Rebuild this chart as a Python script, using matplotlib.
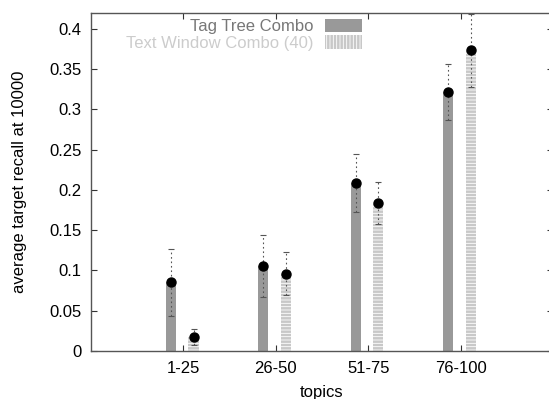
import matplotlib
matplotlib.use("Agg")
import matplotlib.pyplot as plt
from matplotlib.patches import Patch
import numpy as np

categories = ["1-25", "26-50", "51-75", "76-100"]
tag_tree = [0.085, 0.1055, 0.209, 0.321]
tag_tree_err = [0.041, 0.038, 0.036, 0.035]
text_window = [0.0175, 0.096, 0.1835, 0.373]
text_window_err = [0.0095, 0.0265, 0.026, 0.045]
yticks = [0, 0.05, 0.1, 0.15, 0.2, 0.25, 0.3, 0.35, 0.4]
ytick_labels = ["0", "0.05", "0.1", "0.15", "0.2", "0.25", "0.3", "0.35", "0.4"]

plt.rcParams['font.family'] = ['Liberation Sans', 'DejaVu Sans']
plt.rcParams['hatch.linewidth'] = 1.8

FS = 12

fig = plt.figure(figsize=(5.49, 3.99), dpi=100)
ax = fig.add_axes([91/549, 48/399, (553-91)/549, (351-12.5)/399])

x = np.arange(1, len(categories) + 1)
w = 0.11
off_tag = -0.135
off_txt = 0.11

ax.bar(x + off_tag, tag_tree, width=w, color='#999999', linewidth=0, zorder=2)
ax.bar(x + off_txt, text_window, width=w, facecolor='white', edgecolor='#c8c8c8',
       hatch='-----', linewidth=0, zorder=2)

for xs, ys, es in [(x + off_tag, tag_tree, tag_tree_err), (x + off_txt, text_window, text_window_err)]:
    eb = ax.errorbar(xs, ys, yerr=es, fmt='o', color='black', markersize=6.5,
                     ecolor='#555555', elinewidth=0.8, capsize=2.5, capthick=0.8, zorder=3)
    for lc in eb[2]:
        lc.set_linestyle((0, (1.5, 2.5)))

ax.set_xlim(0, 5)
ax.set_ylim(0, 0.42)
ax.set_xticks(x)
ax.set_xticklabels(categories)
ax.set_yticks(yticks)
ax.set_yticklabels(ytick_labels)
ax.tick_params(direction='in', length=4, width=0.8, color='#333333', labelsize=FS,
               top=True, right=True, pad=7)
for s in ax.spines.values():
    s.set_color('#555555')
    s.set_linewidth(1.0)

ax.set_xlabel("topics", fontsize=FS, labelpad=6.5)
ax.set_ylabel("average target recall at 10000", fontsize=FS, labelpad=16)

h1 = Patch(facecolor='#999999', edgecolor='none', linewidth=0)
h2 = Patch(facecolor='white', edgecolor='#c8c8c8', hatch='|||||', linewidth=0)
leg = ax.legend([h1, h2], ["Tag Tree Combo", "Text Window Combo (40)"],
                loc='upper right', bbox_to_anchor=((362-91)/462, 1 - (19-12.5)/338.5),
                frameon=False, markerfirst=False, fontsize=FS, handlelength=2.2,
                handleheight=0.85, handletextpad=0.7, labelspacing=0.05,
                borderaxespad=0, borderpad=0)
texts = leg.get_texts()
texts[0].set_color('#777777')
texts[1].set_color('#cccccc')

fig.savefig("out.png", dpi=100)
